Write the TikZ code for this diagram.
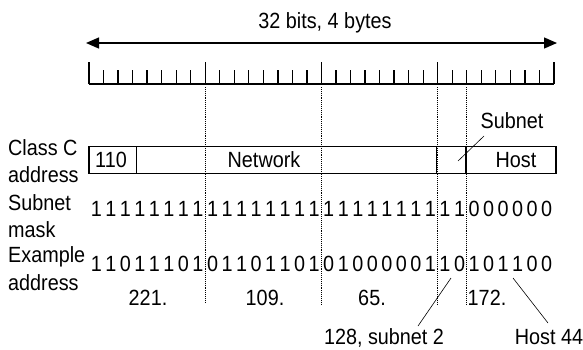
\documentclass[tikz,border=0pt]{standalone}
\usepackage{fontspec}
\setmainfont{Liberation Sans}[FakeStretch=0.9]
\usetikzlibrary{arrows.meta}

\begin{document}
\begin{tikzpicture}[
x=1pt,y=-1pt,
font=\fontsize{22}{26}\selectfont,
lbl/.style={anchor=base west,inner sep=0pt},
txt/.style={anchor=base,inner sep=0pt},
guide/.style={densely dotted,line width=0.9pt},
leader/.style={line width=0.6pt},
thickline/.style={line width=1.3pt}
]

\useasboundingbox (0,0) rectangle (583,349);

%%%%%%%%%%%%%%%%%%%%%%%%%%%%%%%%%%%%%%%%%%%%%%%%%%%%%%%%%%%%
% 32 BITS ARROW
%%%%%%%%%%%%%%%%%%%%%%%%%%%%%%%%%%%%%%%%%%%%%%%%%%%%%%%%%%%%

\node[txt](title) at (325,28) {32 bits, 4 bytes};

\coordinate (aleft) at (86,43);
\coordinate (aright) at (557,43);

\draw[
thickline,
{Triangle[length=13pt,width=11pt]}-{Triangle[length=13pt,width=11pt]}
] (aleft) -- (aright);

%%%%%%%%%%%%%%%%%%%%%%%%%%%%%%%%%%%%%%%%%%%%%%%%%%%%%%%%%%%%
% BIT RULER
%%%%%%%%%%%%%%%%%%%%%%%%%%%%%%%%%%%%%%%%%%%%%%%%%%%%%%%%%%%%

\draw[thickline] (89,84) -- (554,84);

\foreach \i in {0,...,32}{
  \pgfmathsetmacro\tx{89+14.53*\i}
  \pgfmathtruncatemacro\r{mod(\i,8)}
  \ifnum\r=0
    \draw[thickline] (\tx,84) -- (\tx,62);
  \else
    \draw[thickline] (\tx,84) -- (\tx,70);
  \fi
}

% byte and subnet boundaries
\foreach \i/\e in {8/302,16/305,24/305,26/305}
  \draw[guide] ({89+14.53*\i},87) -- ({89+14.53*\i},\e);

%%%%%%%%%%%%%%%%%%%%%%%%%%%%%%%%%%%%%%%%%%%%%%%%%%%%%%%%%%%%
% CLASS C ADDRESS
%%%%%%%%%%%%%%%%%%%%%%%%%%%%%%%%%%%%%%%%%%%%%%%%%%%%%%%%%%%%

\node[lbl](classc) at (8,155) {Class C};
\node[lbl](classcaddr) at (8,182) {address};

\draw[line width=1.4pt] (89,146.5) rectangle (556,173.5);
\draw[line width=1.4pt] (136.7,146.5) -- (136.7,173.5);
\draw[line width=1.4pt] (436.7,146.5) -- (436.7,173.5);
\draw[line width=1.4pt] (465.8,146.5) -- (465.8,173.5);

\node[txt](cls) at (111,167) {110};
\node[txt](network) at (264,167) {Network};
\node[txt](host) at (516,167) {Host};

\node[txt](subnet) at (512,128) {Subnet};
\coordinate (subfrom) at (484,136);
\coordinate (subto) at (458,161);
\draw[leader] (subfrom) -- (subto);

%%%%%%%%%%%%%%%%%%%%%%%%%%%%%%%%%%%%%%%%%%%%%%%%%%%%%%%%%%%%
% SUBNET MASK
%%%%%%%%%%%%%%%%%%%%%%%%%%%%%%%%%%%%%%%%%%%%%%%%%%%%%%%%%%%%

\node[lbl](masklbl) at (8,210) {Subnet};
\node[lbl](masklbltwo) at (8,237) {mask};

\foreach \b [count=\i] in {1,1,1,1,1,1,1,1,1,1,1,1,1,1,1,1,
                           1,1,1,1,1,1,1,1,1,1,0,0,0,0,0,0}
  \node[txt](m\i) at ({89+14.53*(\i-0.5)},216) {\b};

%%%%%%%%%%%%%%%%%%%%%%%%%%%%%%%%%%%%%%%%%%%%%%%%%%%%%%%%%%%%
% EXAMPLE ADDRESS
%%%%%%%%%%%%%%%%%%%%%%%%%%%%%%%%%%%%%%%%%%%%%%%%%%%%%%%%%%%%

\node[lbl](exlbl) at (8,262) {Example};
\node[lbl](exlbltwo) at (8,290) {address};

\foreach \b [count=\i] in {1,1,0,1,1,1,0,1,0,1,1,0,1,1,0,1,
                           0,1,0,0,0,0,0,1,1,0,1,0,1,1,0,0}
  \node[txt](e\i) at ({89+14.53*(\i-0.5)},271) {\b};

\node[txt](dec1) at (148,305) {221.};
\node[txt](dec2) at (265,305) {109.};
\node[txt](dec3) at (372,305) {65.};
\node[txt](dec4) at (487,305) {172.};

%%%%%%%%%%%%%%%%%%%%%%%%%%%%%%%%%%%%%%%%%%%%%%%%%%%%%%%%%%%%
% CALLOUTS
%%%%%%%%%%%%%%%%%%%%%%%%%%%%%%%%%%%%%%%%%%%%%%%%%%%%%%%%%%%%

\node[txt](subnettwo) at (384,344) {128, subnet 2};
\node[txt](hostff) at (549,344) {Host 44};

\coordinate (sfrom) at (451,278);
\coordinate (sto) at (418,326);
\draw[leader] (sfrom) -- (sto);

\coordinate (hfrom) at (513,278);
\coordinate (hto) at (548,323);
\draw[leader] (hfrom) -- (hto);

\end{tikzpicture}
\end{document}
